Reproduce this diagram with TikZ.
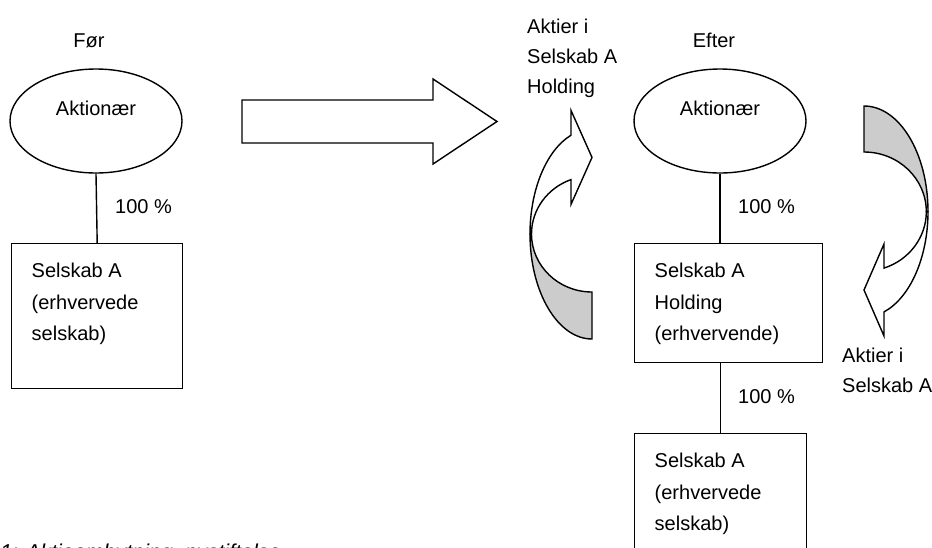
\documentclass[tikz,border=0pt]{standalone}
\usepackage{fontspec}
\setmainfont{Liberation Sans}
\usetikzlibrary{shapes.geometric}

\tikzset{
  lbl/.style={font=\fontsize{20}{31.5}\selectfont, inner sep=0pt},
  sidelbl/.style={font=\fontsize{20}{30}\selectfont, inner sep=0pt, anchor=north west, align=left},
  owner/.style={ellipse, draw, line width=1.4pt, minimum width=172pt, minimum height=104pt,
    font=\fontsize{20}{24}\selectfont, text height=14.5pt, text depth=26.5pt, inner sep=0pt},
  company/.style={rectangle, draw, line width=1.4pt, anchor=north west,
    inner xsep=20pt, inner ysep=0pt, font=\fontsize{20}{31.5}\selectfont},
  link/.style={line width=1.4pt},
  bigarrow/.style={draw, line width=1.4pt, fill=white, line join=miter},
  arrowback/.style={draw, line width=1.4pt, fill=black!20, line join=miter},
  arrowfront/.style={draw, line width=1.4pt, fill=white, line join=miter},
}
% text block of a company box: height, width, lines
\newcommand\boxlines[3]{\parbox[t][#1][t]{#2}{\raggedright\rule{0pt}{34pt}#3}}

\begin{document}
\begin{tikzpicture}[x=1pt,y=-1pt]
\useasboundingbox (0,0) rectangle (932,547);
\clip (0,0) rectangle (932,547);

% ---- before ----
\node[lbl, anchor=base] (forlbl) at (89,47) {Før};
\node[owner] (own1) at (96,121) {Aktionær};
\node[company] (comp1) at (11,243) {\boxlines{145pt}{131pt}{Selskab A\\(erhvervede\\selskab)}};
\draw[link] (own1.south) -- (comp1.north);
\node[lbl, anchor=base west] (pct1) at (115,213) {100 \%};

% ---- transition arrow ----
\draw[bigarrow] (242,100) -- (433,100) -- (433,79) -- (497,121.5) -- (433,164) -- (433,143) -- (242,143) -- cycle;

% ---- shares handed over (left curved arrow) ----
\draw[arrowback] (592,339) arc[start angle=-90, end angle=-180, x radius=62pt, y radius=105pt]
  -- (531.5,234) arc[start angle=180, end angle=270, x radius=60.5pt, y radius=58pt] -- cycle;
\draw[arrowfront] (530,234) arc[start angle=180, end angle=109.8, x radius=62pt, y radius=105pt]
  -- (571,110.4) -- (592,157.4) -- (571,204.4) -- (571,179.6)
  arc[start angle=110.3, end angle=180, x radius=60.5pt, y radius=58pt] -- cycle;
\node[sidelbl] (sharesH) at (527,18) {\rule{0pt}{15pt}Aktier i\\Selskab A\\Holding};

% ---- after ----
\node[lbl, anchor=base] (efterlbl) at (714,47) {Efter};
\node[owner] (own2) at (720,121) {Aktionær};
\node[company] (comp2) at (634,243) {\boxlines{119pt}{148pt}{Selskab A\\Holding\\(erhvervende)}};
\node[company] (comp3) at (634,433) {\boxlines{150pt}{132pt}{Selskab A\\(erhvervede\\selskab)}};
\draw[link] (own2.south) -- (own2.south |- comp2.north);
\draw[link] (comp3.north) -- (comp3.north |- comp2.south);
\node[lbl, anchor=base west] (pct2) at (738,213) {100 \%};
\node[lbl, anchor=base west] (pct3) at (738,403) {100 \%};

% ---- shares handed over (right curved arrow) ----
\draw[arrowback] (864,106) arc[start angle=90, end angle=0, x radius=64pt, y radius=105.6pt]
  -- (926.3,211.6) arc[start angle=0, end angle=90, x radius=62.3pt, y radius=59.6pt] -- cycle;
\draw[arrowfront] (928,211.6) arc[start angle=0, end angle=-71.8, x radius=64pt, y radius=105.6pt]
  -- (884,336) -- (864,290) -- (884,244) -- (884,268.1)
  arc[start angle=-71.3, end angle=0, x radius=62.3pt, y radius=59.6pt] -- cycle;
\node[sidelbl] (sharesA) at (842,347) {\rule{0pt}{15pt}Aktier i\\Selskab A};

% ---- caption ----
\node[anchor=base west, inner sep=0pt, font=\fontsize{21.5}{26}\selectfont\itshape] (caption) at (0,559) {1: Aktieombytning, nystiftelse};
\end{tikzpicture}
\end{document}
